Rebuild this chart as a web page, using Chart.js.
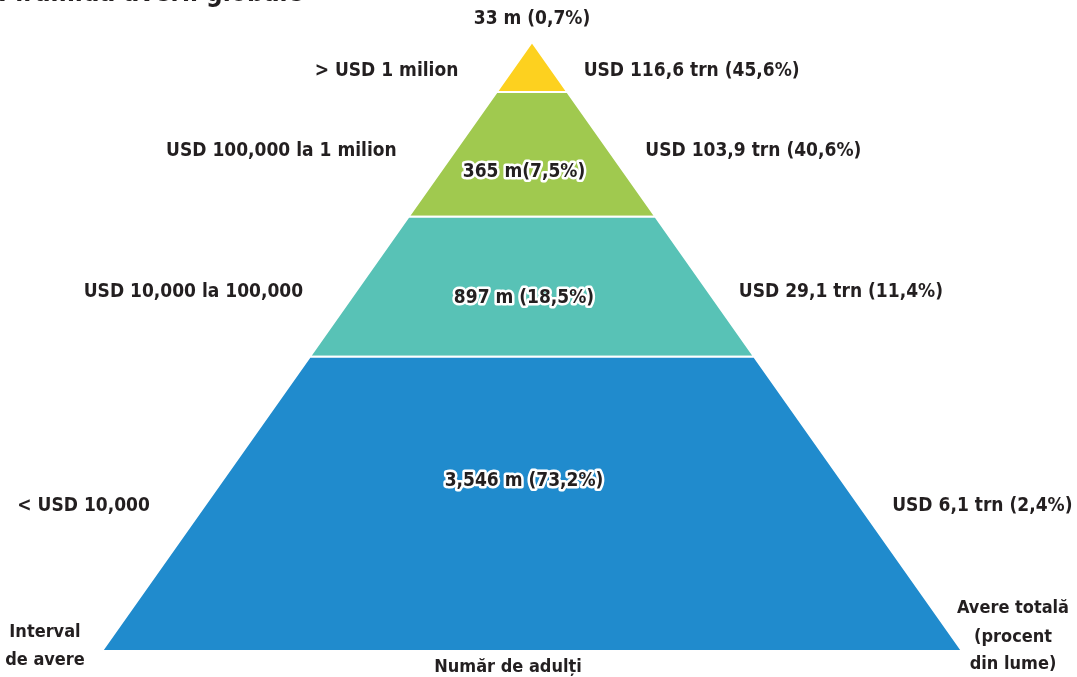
<!DOCTYPE html>
<html lang="ro">
<head>
<meta charset="utf-8">
<title>Piramida averii globale</title>
<script src="https://cdn.jsdelivr.net/npm/chart.js@4.4.1/dist/chart.umd.min.js"></script>
<style>
    html, body { margin: 0; padding: 0; background: #fff; }
    #wrap { position: relative; width: 1077px; height: 677px; }
</style>
</head>
<body>
<div id="wrap"><canvas id="piramida"></canvas></div>
<script>
'use strict';

/* ─────────────────────────────────────────────────────────────
   DATE — straturile de jos (baza) în sus (vârful)
───────────────────────────────────────────────────────────── */
const intervaleAvere = ['< USD 10,000', 'USD 10,000 la 100,000', 'USD 100,000 la 1 milion', '> USD 1 milion'];
const numarAdulti    = ['3,546 m (73,2%)', '897 m (18,5%)', '365 m(7,5%)', '33 m (0,7%)'];
const avereTotala    = ['USD 6,1 trn (2,4%)', 'USD 29,1 trn (11,4%)', 'USD 103,9 trn (40,6%)', 'USD 116,6 trn (45,6%)'];
// limitele straturilor, în % din înălțimea piramidei
const limiteStraturi = [0, 48.3, 71.3, 91.8, 100];

const culori = ['#208bcd', '#58c2b6', '#a0c94f', '#fdd11f'];
const TITLU  = 'Piramida averii globale';
const FONT   = '"DejaVu Sans Condensed", "Liberation Sans Narrow", sans-serif';
const TEXT   = '#231f20';

// semi-lățimea piramidei la înălțimea h (la bază = 50)
const semiLatime = h => 50 * (100 - h) / 100;

function trapez(jos, sus) {
    return [
        { x: -semiLatime(jos), y: jos },
        { x:  semiLatime(jos), y: jos },
        { x:  semiLatime(sus), y: sus },
        { x: -semiLatime(sus), y: sus },
        { x: -semiLatime(jos), y: jos }
    ];
}

/* ─────────────────────────────────────────────────────────────
   ETICHETE — desenate peste straturi
───────────────────────────────────────────────────────────── */
const etichete = {
    id: 'etichete',
    afterDatasetsDraw(chart) {
        const { ctx, scales: { x, y } } = chart;
        const mijloc = i => (limiteStraturi[i] + limiteStraturi[i + 1]) / 2;
        const ajustLaturi = [2, 5, -3, 4];    // px, față de mijlocul stratului
        const ajustCentru = [-24, 10, 17];

        ctx.save();
        ctx.fillStyle = TEXT;

        // titlu (tăiat de marginea de sus)
        ctx.font = `bold 26px ${FONT}`;
        ctx.textAlign = 'left';
        ctx.textBaseline = 'alphabetic';
        ctx.fillText(TITLU, -2, 1);

        ctx.font = `bold 19px ${FONT}`;
        ctx.textBaseline = 'middle';

        intervaleAvere.forEach((txt, i) => {
            const h  = mijloc(i);
            const py = y.getPixelForValue(h) + ajustLaturi[i];
            ctx.textAlign = 'right';
            ctx.fillText(txt, x.getPixelForValue(-semiLatime(h)) - 56, py);
            ctx.textAlign = 'left';
            ctx.fillText(avereTotala[i], x.getPixelForValue(semiLatime(h)) + 34, py);
        });

        // număr de adulți: în interiorul straturilor, cu contur alb
        ctx.textAlign = 'center';
        ctx.lineJoin = 'round';
        numarAdulti.forEach((txt, i) => {
            const px = x.getPixelForValue(0);
            if (i === numarAdulti.length - 1) {
                ctx.fillText(txt, px, y.getPixelForValue(100) - 23);
                return;
            }
            const py = y.getPixelForValue(mijloc(i)) + ajustCentru[i];
            ctx.lineWidth = 5;
            ctx.strokeStyle = '#fff';
            ctx.strokeText(txt, px - 8, py + 1);
            ctx.fillText(txt, px - 8, py + 1);
        });

        // titlurile coloanelor
        ctx.font = `bold 18px ${FONT}`;
        ctx.fillText('Interval', 45, 632);
        ctx.fillText('de avere', 45, 660);
        ctx.fillText('Număr de adulți', 508, 667);
        ctx.fillText('Avere totală', 1013, 608);
        ctx.fillText('(procent', 1013, 637);
        ctx.fillText('din lume)', 1013, 664);

        ctx.restore();
    }
};

/* ─────────────────────────────────────────────────────────────
   GRAFIC
───────────────────────────────────────────────────────────── */
new Chart(document.getElementById('piramida'), {
    type: 'scatter',
    data: {
        datasets: intervaleAvere.map((nume, i) => ({
            label: nume,
            data: trapez(limiteStraturi[i], limiteStraturi[i + 1]),
            showLine: true,
            fill: 'shape',
            tension: 0,
            backgroundColor: culori[i],
            borderColor: '#ffffff',
            borderWidth: 2,
            pointRadius: 0
        }))
    },
    options: {
        responsive: true,
        maintainAspectRatio: false,
        animation: false,
        events: [],
        layout: { padding: 0 },
        plugins: {
            legend: { display: false },
            tooltip: { enabled: false }
        },
        scales: {
            x: { type: 'linear', min: -61.86, max: 63.37, display: false },
            y: { type: 'linear', min: -4.27, max: 106.9, display: false }
        }
    },
    plugins: [etichete]
});
</script>
</body>
</html>
